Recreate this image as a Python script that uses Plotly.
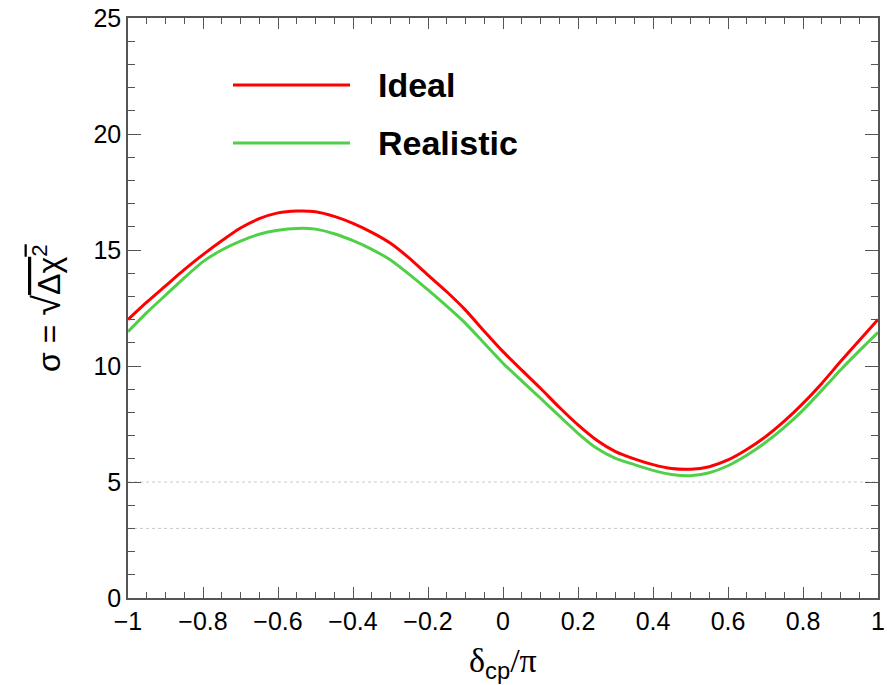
import plotly.graph_objects as go

# ---- data ----
delta_cp = [-1.00, -0.95, -0.90, -0.85, -0.80, -0.75, -0.70, -0.65, -0.60, -0.55,
            -0.50, -0.45, -0.40, -0.35, -0.30, -0.25, -0.20, -0.15, -0.10, -0.05,
            0.00, 0.05, 0.10, 0.15, 0.20, 0.25, 0.30, 0.35, 0.40, 0.45,
            0.50, 0.55, 0.60, 0.65, 0.70, 0.75, 0.80, 0.85, 0.90, 0.95, 1.00]

ideal = [12.00, 12.75, 13.45, 14.15, 14.80, 15.40, 15.95, 16.35, 16.60, 16.68,
         16.65, 16.45, 16.15, 15.76, 15.29, 14.65, 13.92, 13.20, 12.41, 11.50,
         10.62, 9.82, 9.04, 8.22, 7.46, 6.80, 6.31, 6.00, 5.75, 5.58,
         5.55, 5.66, 5.95, 6.40, 6.95, 7.62, 8.39, 9.25, 10.19, 11.10, 12.00]

realistic = [11.48, 12.30, 13.05, 13.80, 14.50, 15.00, 15.38, 15.68, 15.85, 15.93,
             15.90, 15.70, 15.40, 15.03, 14.57, 13.95, 13.28, 12.58, 11.84, 10.98,
             10.12, 9.36, 8.61, 7.85, 7.10, 6.45, 6.02, 5.75, 5.50, 5.32,
             5.27, 5.40, 5.70, 6.15, 6.70, 7.35, 8.10, 8.95, 9.83, 10.65, 11.45]

series_names = ["Ideal", "Realistic"]
series_colors = ["#ff0000", "#50d048"]
threshold_levels = [3, 5]

x_range = [-1, 1]
y_range = [0, 25]

fig = go.Figure()
for name, vals, col in zip(series_names, [ideal, realistic], series_colors):
    fig.add_trace(go.Scatter(x=delta_cp, y=vals, mode="lines", name=name,
                             line=dict(color=col, width=3, shape="spline", smoothing=0.6),
                             showlegend=False))

# threshold dotted lines
for lvl in threshold_levels:
    fig.add_shape(type="line", xref="paper", yref="y", x0=0, x1=1, y0=lvl, y1=lvl,
                  line=dict(color="#c8c8c8", width=1, dash="dot"), layer="below")

# manual legend (ROOT-style)
leg_y = [0.8845, 0.7845]
for name, col, yy in zip(series_names, series_colors, leg_y):
    fig.add_shape(type="line", xref="paper", yref="paper", x0=0.14, x1=0.296,
                  y0=yy, y1=yy, line=dict(color=col, width=3))
    fig.add_annotation(xref="paper", yref="paper", x=0.3307, y=yy, text="<b>%s</b>" % name,
                       showarrow=False, xanchor="left", yanchor="middle",
                       font=dict(family="Liberation Sans, Arial", size=34, color="black"))

# axis titles
fig.add_annotation(xref="paper", yref="paper", x=0.5, y=-0.112, yanchor="middle",
                   text="δ<sub><span style='font-family:Liberation Sans, Arial'>cp</span></sub>/π",
                   showarrow=False,
                   font=dict(family="Liberation Serif, Times New Roman", size=34, color="black"))
fig.add_annotation(xref="paper", yref="paper", x=-0.108, y=0.5, xanchor="center", yanchor="middle",
                   textangle=-90,
                   text="σ = <span style='font-size:38px'>√</span><span style='text-decoration:overline'>Δχ<sup>2</sup></span>",
                   showarrow=False,
                   font=dict(family="Liberation Sans, Arial", size=32, color="black"))

axis_common = dict(showgrid=False, zeroline=False, showline=True, linecolor="#555555",
                   linewidth=1.5, mirror="ticks", ticks="inside", tickcolor="#555555",
                   automargin=False,
                   tickfont=dict(family="Liberation Sans, Arial", size=25, color="black"))

fig.update_xaxes(range=x_range, dtick=0.2, tick0=-1, ticklen=11, tickwidth=1.2,
                 minor=dict(dtick=0.05, ticks="inside", ticklen=6, tickcolor="#555555", tickwidth=1),
                 **axis_common)
fig.update_yaxes(range=y_range, dtick=5, tick0=0, ticklen=13, tickwidth=1.2,
                 minor=dict(dtick=1, ticks="inside", ticklen=7, tickcolor="#555555", tickwidth=1),
                 **axis_common)

fig.update_layout(width=887, height=685, plot_bgcolor="white", paper_bgcolor="white",
                  margin=dict(l=128, r=9, t=18, b=87), showlegend=False)

fig.write_html("out.html")
